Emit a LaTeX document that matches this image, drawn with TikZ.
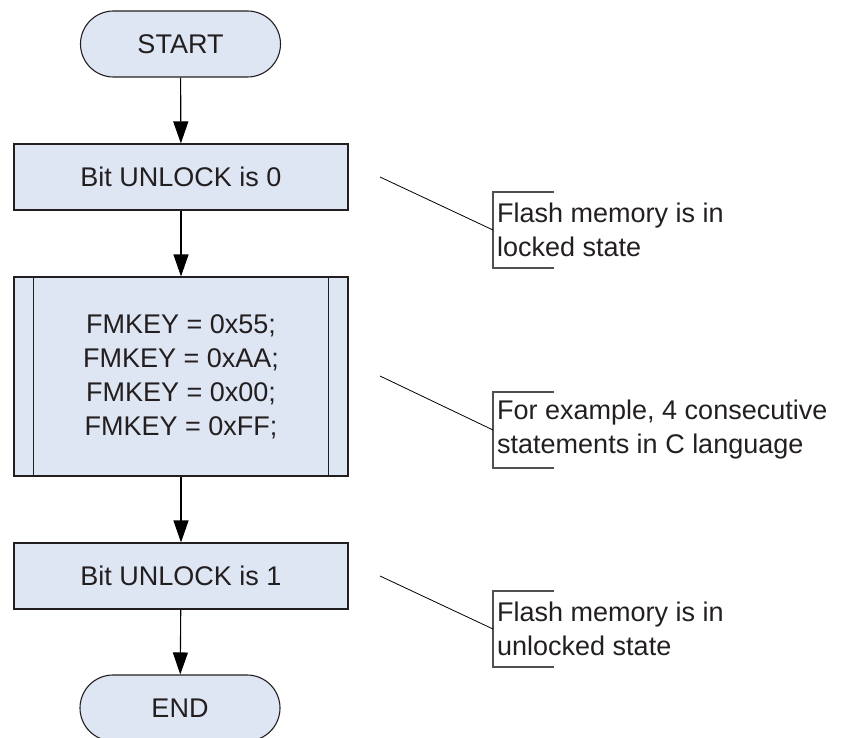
\documentclass[tikz,border=0pt]{standalone}
\usepackage{fontspec}
\setmainfont{Liberation Sans}
\usetikzlibrary{shapes.misc,arrows.meta}
\definecolor{boxfill}{RGB}{222,230,243}
\definecolor{ink}{RGB}{35,31,32}
\definecolor{bracketgray}{RGB}{80,80,80}
\tikzset{
  every node/.style={font=\fontsize{27}{34}\selectfont, text=ink},
  terminal/.style={rounded rectangle, draw=ink, fill=boxfill, line width=1.1pt,
    minimum width=200pt, minimum height=66pt, inner sep=0pt},
  process/.style={rectangle, draw=ink, fill=boxfill, line width=1.1pt,
    minimum width=334pt, minimum height=66pt, inner sep=0pt},
  flow/.style={line width=1.1pt, draw=black, -{Triangle[length=22pt,width=15pt]}},
  leader/.style={line width=0.8pt, draw=black},
  bracket/.style={line width=1.1pt, draw=bracketgray},
  note/.style={anchor=west, align=left, inner sep=0pt}
}
\begin{document}
\begin{tikzpicture}[x=1pt,y=-1pt]
  \useasboundingbox (0,0) rectangle (843,738);

  % flowchart column
  \node[terminal] (start) at (180.5,44) {START};
  \node[process] (lock0) at (181,177) {Bit UNLOCK is 0};
  \node[process, minimum height=199pt, align=center] (keys) at (181,376.5)
    {FMKEY = 0x55;\\FMKEY = 0xAA;\\FMKEY = 0x00;\\FMKEY = 0xFF;};
  \draw[line width=1.1pt, draw=ink]
    ([xshift=20pt]keys.north west) -- ([xshift=20pt]keys.south west)
    ([xshift=-20pt]keys.north east) -- ([xshift=-20pt]keys.south east);
  \node[process] (lock1) at (181,576) {Bit UNLOCK is 1};
  \node[terminal] (end) at (180,708) {END};

  \draw[flow] (start) -- (lock0);
  \draw[flow] (lock0) -- (keys);
  \draw[flow] (keys) -- (lock1);
  \draw[flow] (lock1) -- (end);

  % annotations
  \coordinate (a1) at (380,177);
  \coordinate (b1) at (493,230);
  \draw[bracket] (554,192) -- (493,192) -- (493,268) -- (554,268);
  \draw[leader] (a1) -- (b1);
  \node[note] (n1) at (497,230) {Flash memory is in\\locked state};

  \coordinate (a2) at (380,376);
  \coordinate (b2) at (493,430);
  \draw[bracket] (554,392) -- (493,392) -- (493,468) -- (554,468);
  \draw[leader] (a2) -- (b2);
  \node[note] (n2) at (497,430) {For example, 4 consecutive\\statements in C language};

  \coordinate (a3) at (380,576);
  \coordinate (b3) at (493,629);
  \draw[bracket] (554,591) -- (493,591) -- (493,667) -- (554,667);
  \draw[leader] (a3) -- (b3);
  \node[note] (n3) at (497,629) {Flash memory is in\\unlocked state};
\end{tikzpicture}
\end{document}
